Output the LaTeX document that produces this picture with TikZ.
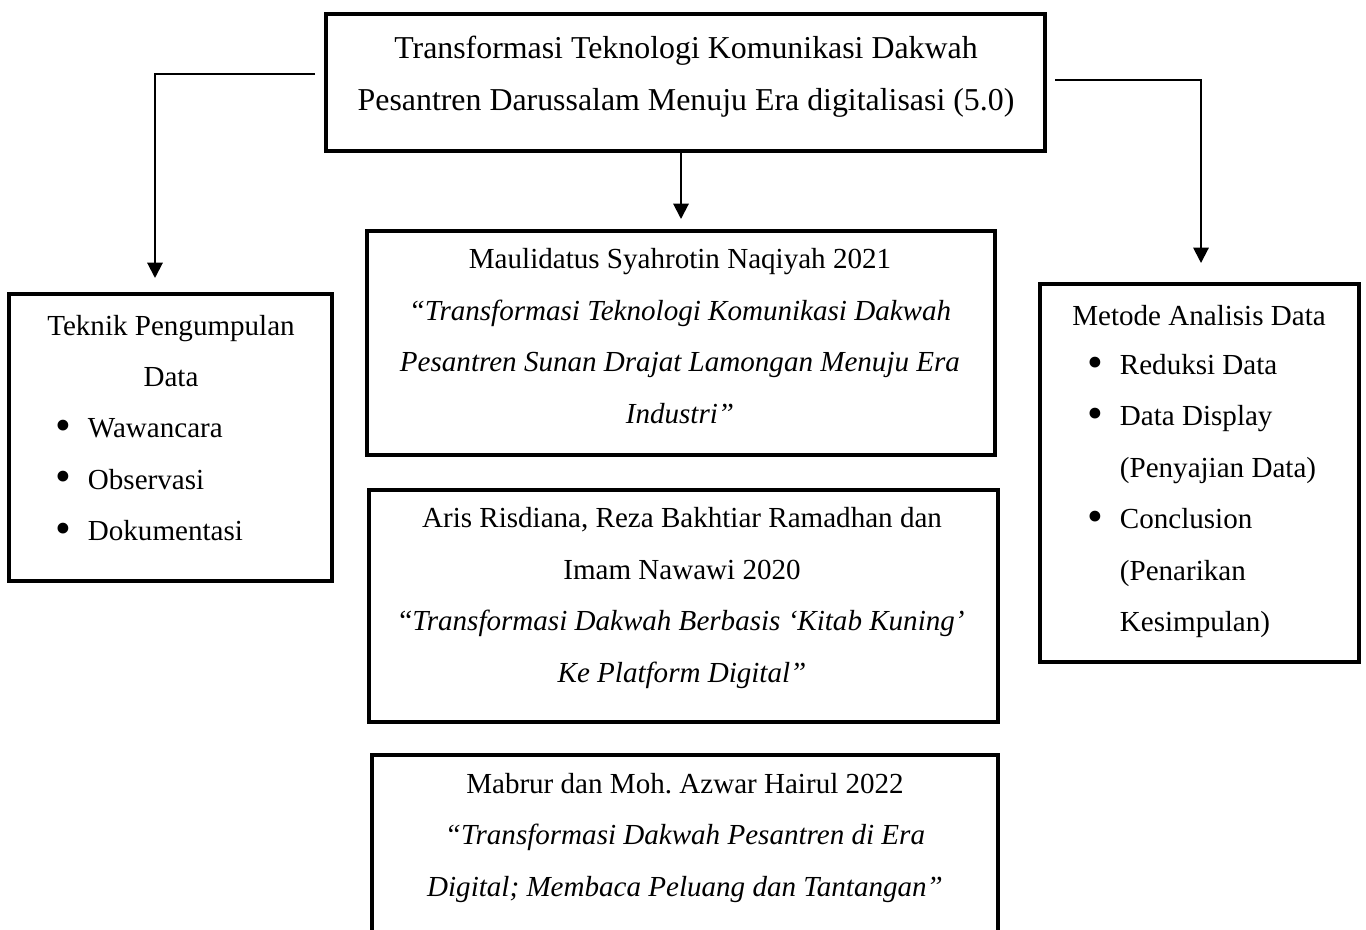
\documentclass[tikz,border=0pt]{standalone}
\usepackage{fontspec}
\usepackage{graphicx}
\setmainfont{Liberation Serif}
\frenchspacing
\usetikzlibrary{arrows.meta}
\tikzset{
  boxnode/.style={draw=black, line width=2.4pt, inner sep=0pt, fill=none},
  arr/.style={line width=1.5pt, -{Triangle[width=11.5pt,length=11.5pt]}},
  bigtxt/.style={font={\fontsize{23.9}{39}\selectfont}, align=center, inner sep=0pt},
  txt/.style={font={\fontsize{21.8}{38.6}\selectfont}, align=center, inner sep=0pt},
  listtxt/.style={font={\fontsize{21.8}{38.6}\selectfont}, align=left, inner sep=0pt, anchor=west},
}
\newcommand{\bul}{\makebox[23pt][l]{\hspace*{-1.5pt}\raisebox{-0.1em}{\scalebox{1.55}{•}}}}
\newcommand{\ind}{\hspace*{23pt}}
\begin{document}
\begin{tikzpicture}[x=0.75pt,y=-0.75pt]
\useasboundingbox (0,0) rectangle (1366,930);
\clip (0,0) rectangle (1366,930);
% boxes
\node[boxnode, minimum width=719*0.75pt, minimum height=137*0.75pt] (top) at (685.5,82.5) {};
\node[boxnode, minimum width=628*0.75pt, minimum height=224*0.75pt] (b2) at (681,343) {};
\node[boxnode, minimum width=629*0.75pt, minimum height=232*0.75pt] (b3) at (683.5,606) {};
\node[boxnode, minimum width=626*0.75pt, minimum height=215*0.75pt] (b4) at (685,862.5) {};
\node[boxnode, minimum width=323*0.75pt, minimum height=287*0.75pt] (left) at (170.5,437.5) {};
\node[boxnode, minimum width=319*0.75pt, minimum height=378*0.75pt] (right) at (1199.5,473) {};
% texts
\node[bigtxt] (toptext) at (686,77) {Transformasi Teknologi Komunikasi Dakwah\\Pesantren Darussalam Menuju Era digitalisasi (5.0)};
\node[txt] (b2text) at (680,336) {Maulidatus Syahrotin Naqiyah 2021\\\textit{“Transformasi Teknologi Komunikasi Dakwah}\\\textit{Pesantren Sunan Drajat Lamongan Menuju Era}\\\textit{Industri”}};
\node[txt] (b3text) at (682,598) {Aris Risdiana, Reza Bakhtiar Ramadhan dan\\Imam Nawawi 2020\\“\textit{Transformasi Dakwah Berbasis ‘Kitab Kuning’}\\\textit{Ke Platform Digital”}};
\node[txt] (b4text) at (685,838) {Mabrur dan Moh. Azwar Hairul 2022\\\textit{“Transformasi Dakwah Pesantren di Era}\\\textit{Digital; Membaca Peluang dan Tantangan”}};
\node[txt] (lefttitle) at (171,351) {Teknik Pengumpulan\\Data};
\node[listtxt] (leftlist) at (57,481) {\bul Wawancara\\\bul Observasi\\\bul Dokumentasi};
\node[txt] (righttitle) at (1199,316) {Metode Analisis Data};
\node[listtxt] (rightlist) at (1089,496) {\bul Reduksi Data\\\bul Data Display\\\ind(Penyajian Data)\\\bul Conclusion\\\ind(Penarikan\\\ind Kesimpulan)};
% connectors
\coordinate (lstart) at (315,74);
\coordinate (ltip) at (155,278);
\coordinate (rstart) at (1055,80);
\coordinate (rtip) at (1201,263);
\coordinate (ctip) at (681,219);
\draw[arr] (lstart) -| (ltip);
\draw[arr] (rstart) -| (rtip);
\draw[arr] (ctip |- top.south) -- (ctip);
\end{tikzpicture}
\end{document}
